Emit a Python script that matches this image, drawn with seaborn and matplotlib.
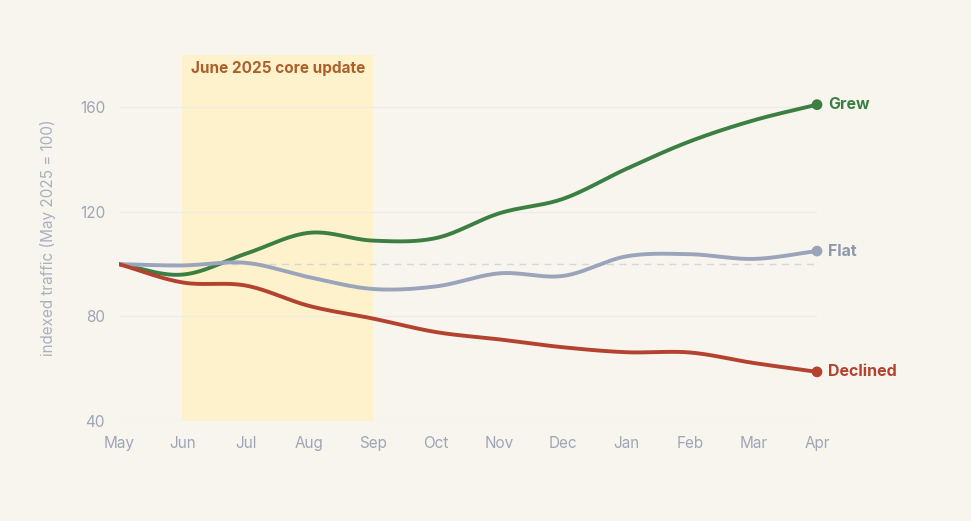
import numpy as np
import pandas as pd
import matplotlib.pyplot as plt
import seaborn as sns

# monthly index values (May 2025 = 100)
months = ['May', 'Jun', 'Jul', 'Aug', 'Sep', 'Oct', 'Nov', 'Dec', 'Jan', 'Feb', 'Mar', 'Apr']
grew = [100, 96, 104, 112, 109, 110, 119.5, 125, 136.5, 147, 155, 161]
flat = [100, 99.5, 100.5, 95, 90.5, 91.5, 96.5, 95.5, 103, 103.8, 102, 105]
declined = [100, 93, 91.8, 84, 79.2, 74, 71.2, 68.2, 66.3, 66.2, 62.2, 58.8]

series_names = ['Grew', 'Flat', 'Declined']
series_values = [grew, flat, declined]
line_colors = ['#3b7f43', '#9aa4ba', '#b3422f']
label_colors = ['#3b7f43', '#8e99ae', '#b3422f']

update_start, update_end = 'Jun', 'Sep'
update_label = 'June 2025 core update'
y_ticks = [40, 80, 120, 160]


def smooth(y, n=30):
    # Catmull-Rom style hermite curve through the monthly points (drawing only)
    y = np.asarray(y, dtype=float)
    x = np.arange(len(y), dtype=float)
    m = np.empty_like(y)
    m[1:-1] = (y[2:] - y[:-2]) / 2
    m[0] = y[1] - y[0]
    m[-1] = y[-1] - y[-2]
    xs, ys = [], []
    for i in range(len(y) - 1):
        t = np.linspace(0, 1, n, endpoint=(i == len(y) - 2))
        h00 = 2 * t**3 - 3 * t**2 + 1
        h10 = t**3 - 2 * t**2 + t
        h01 = -2 * t**3 + 3 * t**2
        h11 = t**3 - t**2
        xs.append(x[i] + t)
        ys.append(h00 * y[i] + h10 * m[i] + h01 * y[i + 1] + h11 * m[i + 1])
    return np.concatenate(xs), np.concatenate(ys)


bg = '#f8f5ef'
sns.set_theme(style='white')
plt.rcParams['font.family'] = ['Inter', 'DejaVu Sans']

fig = plt.figure(figsize=(9.71, 5.21), dpi=100, facecolor=bg)
ax = fig.add_axes([119 / 971, 1 - 421 / 521, (817 - 119) / 971, (421 - 55) / 521])
ax.set_facecolor(bg)

x_start = months.index(update_start)
x_end = months.index(update_end)
ax.axvspan(x_start, x_end, color='#fdf2cc', zorder=0, lw=0)
ax.text(x_start + 0.14, 175, update_label, color='#ad5f2a', fontsize=11,
        fontweight='bold', va='center', ha='left')

for v in y_ticks:
    ax.axhline(v, color='#efece6', lw=0.9, zorder=0.5)
ax.axhline(100, color='#d6d6d4', lw=1, ls=(0, (5, 4)), zorder=1)

for name, vals, col, lcol in zip(series_names, series_values, line_colors, label_colors):
    sx, sy = smooth(vals)
    sns.lineplot(x=sx, y=sy, ax=ax, color=col, lw=2.8, sort=False, zorder=3)
    sns.scatterplot(x=[len(vals) - 1], y=[vals[-1]], ax=ax, color=col, s=60,
                    edgecolor='none', zorder=4, clip_on=False)
    ax.text(len(vals) - 1 + 0.17, vals[-1], name, color=lcol, fontsize=11.5,
            fontweight='bold', va='center', ha='left')

ax.set_xlim(0, len(months) - 1)
ax.set_ylim(40, 180)
ax.set_xticks(range(len(months)))
ax.set_xticklabels(months)
ax.set_yticks(y_ticks)
ax.tick_params(axis='both', length=0, labelsize=11, labelcolor='#9ea6b6')
ax.tick_params(axis='x', pad=11)
ax.tick_params(axis='y', pad=10)
ax.set_ylabel('indexed traffic (May 2025 = 100)', color='#a9b0be', fontsize=11)
ax.yaxis.set_label_coords(-0.09, 0.5)
for s in ax.spines.values():
    s.set_visible(False)

fig.savefig('out.png', dpi=100, facecolor=bg)
